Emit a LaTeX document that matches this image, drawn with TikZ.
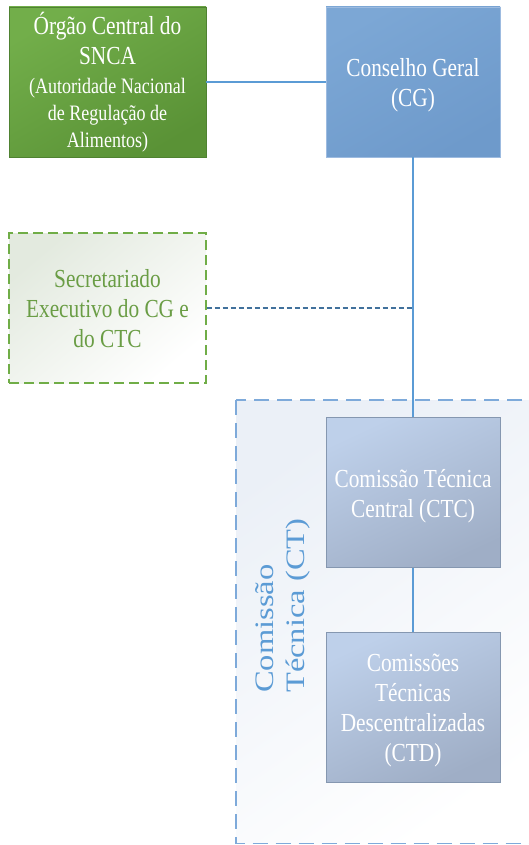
\documentclass[tikz,border=0pt]{standalone}
\usepackage{fontspec}
\usepackage{graphicx}
\setmainfont{Liberation Serif}
\usetikzlibrary{positioning}
\newcommand{\sqtext}[1]{\raisebox{-3.5pt}[\height][\depth]{\scalebox{0.82}[1]{\begin{tabular}{@{}c@{}}#1\end{tabular}}}}
\definecolor{gtop}{HTML}{72AE4A}
\definecolor{gbot}{HTML}{5A9236}
\definecolor{gline}{HTML}{4F8231}
\definecolor{cgtop}{HTML}{7CA7D5}
\definecolor{cgbot}{HTML}{6E9ACB}
\definecolor{cgline}{HTML}{9DBBE0}
\definecolor{conn}{HTML}{5B9BD5}
\definecolor{dconn}{HTML}{41719C}
\definecolor{secline}{HTML}{70AD47}
\definecolor{sectext}{HTML}{6A9D45}
\definecolor{secfill}{HTML}{E3EADF}
\definecolor{ctline}{HTML}{7EAADA}
\definecolor{ctfill}{HTML}{EBF0F7}
\definecolor{cttext}{HTML}{5B9BD5}
\definecolor{ttop}{HTML}{BED0EA}
\definecolor{tbot}{HTML}{9FAEC6}
\definecolor{tline}{HTML}{8597B0}
\tikzset{
  boxbase/.style={rectangle, inner sep=0pt, align=center,
    font=\fontsize{26}{30}\selectfont},
  greenbox/.style={boxbase, draw=gline, line width=0.8pt,
    top color=gtop, bottom color=gbot, shading angle=30,
    minimum width=197pt, minimum height=150pt},
  cgbox/.style={boxbase, draw=cgline, line width=0.8pt, text=white,
    top color=cgtop, bottom color=cgbot, shading angle=30,
    minimum width=174pt, minimum height=150pt},
  secbox/.style={boxbase, draw=secline, line width=1.1pt, dash pattern=on 10pt off 5pt,
    top color=secfill, bottom color=white, shading angle=40, text=sectext,
    minimum width=197pt, minimum height=150pt},
  ctbox/.style={boxbase, draw=tline, line width=0.8pt, text=white,
    top color=ttop, bottom color=tbot, shading angle=25,
    minimum width=174pt, minimum height=150pt},
  wtext/.style={inner sep=0pt, align=center, text=white},
  conline/.style={draw=conn, line width=1.2pt},
  dconline/.style={draw=dconn, line width=1.2pt, dash pattern=on 5pt off 3pt},
}
\begin{document}
\begin{tikzpicture}[x=1pt,y=-1pt]
\useasboundingbox (0,0) rectangle (529,845);
% Comissao Tecnica container
\path[draw=ctline, line width=1.5pt, dash pattern=on 15pt off 8pt,
  top color=ctfill, bottom color=white, shading angle=35]
  (236,400) rectangle (545,843.5);
\node[inner sep=0pt, align=left, text=cttext, rotate=90, yscale=0.82,
  anchor=north west, font=\fontsize{32.5}{38.5}\selectfont] (ctlabel)
  at (255,693) {Comissão\\Técnica (CT)};
% boxes
\node[greenbox] (org) at (107.5,82) {};
\node[wtext, font=\fontsize{26}{30}\selectfont] (orgA) at (107.5,43)
  {\scalebox{0.82}[1]{\begin{tabular}{@{}c@{}}Órgão Central do\\SNCA\end{tabular}}};
\node[wtext, font=\fontsize{22}{27}\selectfont] (orgB) at (107.5,115.5)
  {\scalebox{0.82}[1]{\begin{tabular}{@{}c@{}}(Autoridade Nacional\\de Regulação de\\Alimentos)\end{tabular}}};
\node[cgbox] (cg) at (413,82) {\sqtext{Conselho Geral\\(CG)}};
\node[secbox] (sec) at (107.5,308) {\sqtext{Secretariado\\Executivo do CG e\\do CTC}};
\node[ctbox] (ctc) at (413,492.5) {\sqtext{Comissão Técnica\\Central (CTC)}};
\node[ctbox] (ctd) at (413,707) {\sqtext{Comissões\\Técnicas\\Descentralizadas\\(CTD)}};
\coordinate (junc) at (413,308);
% connectors
\draw[conline] (org.east |- cg.west) -- (cg.west);
\draw[conline] (cg.south) -- (ctc.north);
\draw[conline] (ctc.south) -- (ctd.north);
\draw[dconline] (sec.east) -- (junc);
\end{tikzpicture}
\end{document}
